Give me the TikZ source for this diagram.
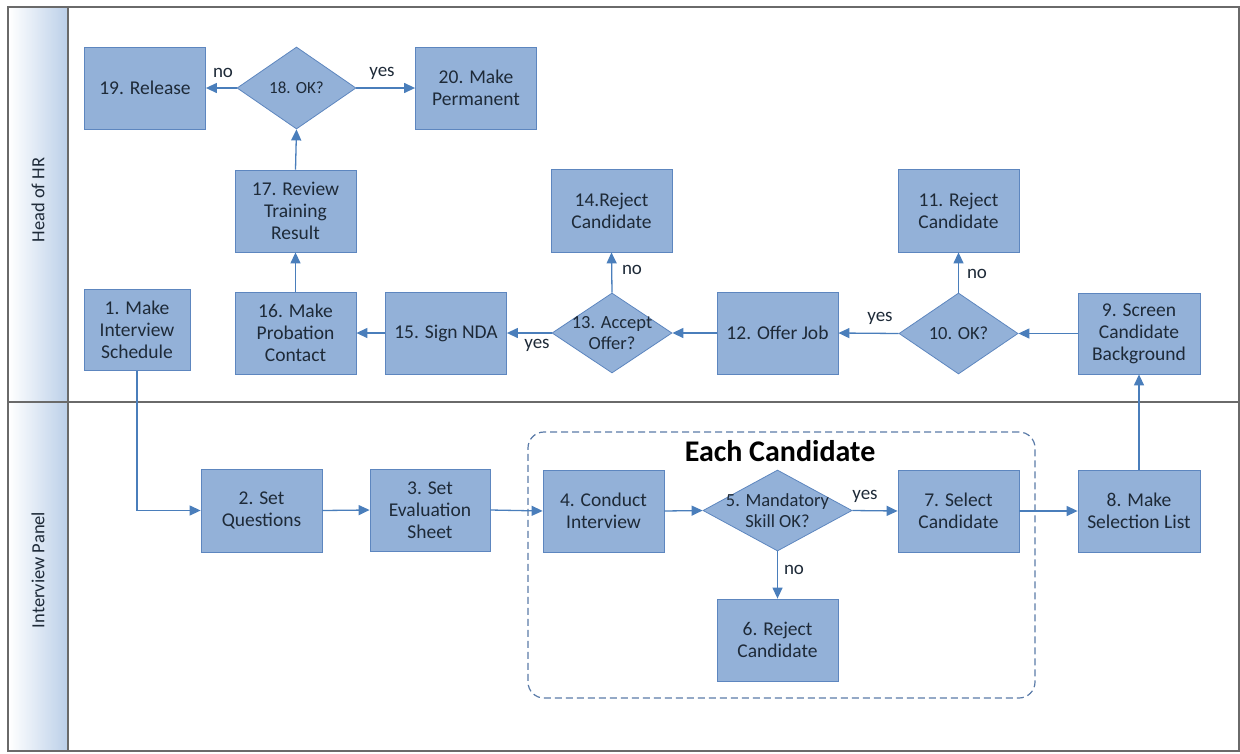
\documentclass[tikz,border=0pt]{standalone}
\usepackage{fontspec}
\setmainfont{Carlito}
\usetikzlibrary{shapes.geometric,arrows.meta}
\definecolor{boxfill}{HTML}{93B1D8}
\definecolor{boxline}{HTML}{5D86BF}
\definecolor{conn}{HTML}{4A7EBB}
\definecolor{txt}{HTML}{1E2A38}
\definecolor{frame}{HTML}{6A6A6A}
\definecolor{hdr}{HTML}{BCD0E9}
\definecolor{grpline}{HTML}{5A7BA8}
\begin{document}
\begin{tikzpicture}[x=1pt,y=-1pt,
 box/.style={draw=boxline, fill=boxfill, line width=0.8pt, minimum width=121pt, minimum height=82pt, inner sep=1pt, align=center, text=txt, font=\fontsize{19.5}{22}\selectfont},
 dia/.style={draw=boxline, fill=boxfill, line width=0.8pt, shape=diamond, inner sep=0pt},
 dtext/.style={align=center, text=txt, font=\fontsize{18.5}{21}\selectfont},
 arr/.style={draw=conn, line width=1.3pt, -{Triangle[length=11pt,width=10pt]}},
 lbl/.style={font=\fontsize{19}{22}\selectfont, text=txt},
 lane/.style={font=\fontsize{18.5}{22}\selectfont, text=txt, rotate=90}]
\useasboundingbox (0,0) rectangle (1240,753);
% lane headers
\shade[left color=white, right color=hdr] (9,8) rectangle (67,401);
\shade[left color=white, right color=hdr] (9,403) rectangle (67,750);
\draw[frame, line width=1.3pt] (8,7) rectangle (1239,751);
\draw[frame, line width=1.3pt] (68,7) -- (68,751);
\draw[frame, line width=1.3pt] (8,402) -- (1239,402);
\node[lane] (lhr) at (38,200) {Head of HR};
\node[lane] (lip) at (38,570) {Interview Panel};
% group box
\node[draw=grpline, dash pattern=on 7pt off 4pt, line width=1.2pt, rounded corners=16pt, minimum width=507pt, minimum height=266pt] (grp) at (781.5,565) {};
\node[font=\bfseries\fontsize{30}{34}\selectfont, text=black] (grpt) at (780,451) {Each Candidate};
% top lane
\node[box, minimum width=106pt, minimum height=81pt] (n1) at (137,330) {1. Make\\Interview\\Schedule};
\node[box] (n16) at (295.5,333) {16. Make\\Probation\\Contact};
\node[box] (n17) at (295.5,211) {17. Review\\Training\\Result};
\node[dia, minimum width=119pt, minimum height=82pt, label={[dtext, font=\fontsize{17}{20}\selectfont]center:18. OK?}] (d18) at (296.5,88) {};
\node[box] (n19) at (145,88) {19. Release};
\node[box] (n20) at (476,88) {20. Make\\Permanent};
\node[box] (n15) at (446,333) {15. Sign NDA};
\node[dia, minimum width=120pt, minimum height=80pt, label={[dtext]center:13. Accept\\Offer?}] (d13) at (612,333) {};
\node[box, minimum height=83pt] (n14) at (611.5,210.5) {14.Reject\\Candidate};
\node[box] (n12) at (777.5,333) {12. Offer Job};
\node[dia, minimum width=119pt, minimum height=81pt, label={[dtext]center:10. OK?}] (d10) at (958.5,333.5) {};
\node[box, minimum height=83pt] (n11) at (958.5,210.5) {11. Reject\\Candidate};
\node[box, minimum width=122pt, minimum height=81pt] (n9) at (1139,333.5) {9. Screen\\Candidate\\Background};
% bottom lane
\node[box, minimum height=83pt] (n2) at (261.5,510.5) {2. Set\\Questions};
\node[box, minimum width=120pt] (n3) at (430,510) {3. Set\\Evaluation\\Sheet};
\node[box] (n4) at (603.5,511) {4. Conduct\\Interview};
\node[dia, minimum width=149pt, minimum height=81pt, label={[dtext]center:5. Mandatory\\Skill OK?}] (d5) at (777.5,510.5) {};
\node[box] (n7) at (958.5,511) {7. Select\\Candidate};
\node[box] (n6) at (777.5,640) {6. Reject\\Candidate};
\node[box, minimum width=122pt] (n8) at (1139,511) {8. Make\\Selection List};
% connectors
\draw[arr] (n1.south) |- (n2.west);
\draw[arr] (n2.east) -- (n3.west);
\draw[arr] (n3.east) -- (n4.west);
\draw[arr] (n4.east) -- (d5.west);
\draw[arr] (d5.east) -- (n7.west);
\draw[arr] (d5.south) -- (n6.north);
\draw[arr] (n7.east) -- (n8.west);
\draw[arr] (n8.north) -- (n9.south);
\draw[arr] (n9.west) -- (d10.east);
\draw[arr] (d10.west) -- (n12.east);
\draw[arr] (d10.north) -- (n11.south);
\draw[arr] (n12.west) -- (d13.east);
\draw[arr] (d13.north) -- (n14.south);
\draw[arr] (d13.west) -- (n15.east);
\draw[arr] (n15.west) -- (n16.east);
\draw[arr] (n16.north) -- (n17.south);
\draw[arr] (n17.north) -- (d18.south);
\draw[arr] (d18.west) -- (n19.east);
\draw[arr] (d18.east) -- (n20.west);
% connector labels
\node[lbl] (l1) at (223,73) {no};
\node[lbl] (l2) at (382,73) {yes};
\node[lbl] (l3) at (632,270) {no};
\node[lbl] (l4) at (537,345) {yes};
\node[lbl] (l5) at (880,318) {yes};
\node[lbl] (l6) at (977,274) {no};
\node[lbl] (l7) at (865,496) {yes};
\node[lbl] (l8) at (794,570) {no};
\end{tikzpicture}
\end{document}
